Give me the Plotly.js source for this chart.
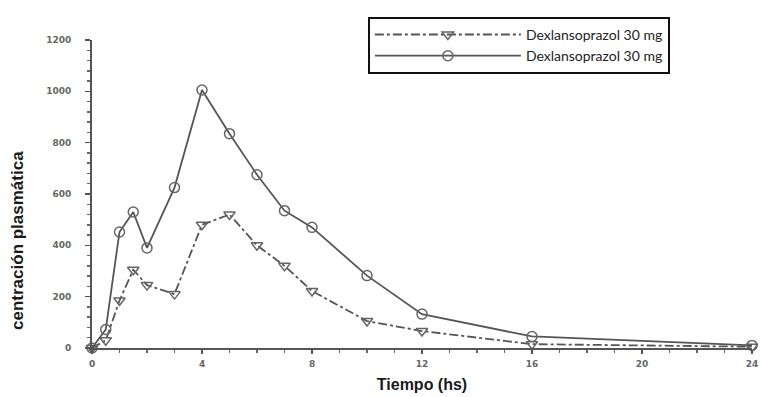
<!DOCTYPE html>
<html>
<head>
<meta charset="utf-8">
<script src="https://cdn.plot.ly/plotly-3.0.1.min.js"></script>
<style>html,body{margin:0;padding:0;background:#fff;}#chart{width:761px;height:397px;}</style>
</head>
<body>
<div id="chart"></div>
<script>
// Time points (hours)
var tiempo = [0, 0.5, 1, 1.5, 2, 3, 4, 5, 6, 7, 8, 10, 12, 16, 24];
// Series 1 (triangles, dash-dot)
var serieTriangulo = [0, 30, 185, 305, 245, 210, 480, 520, 400, 320, 222, 105, 66, 15, 5];
// Series 2 (circles, solid)
var serieCirculo = [0, 72, 452, 530, 390, 625, 1005, 835, 675, 535, 470, 282, 132, 45, 10];
var nombres = ["Dexlansoprazol 30 mg", "Dexlansoprazol 30 mg"];
var xTicks = [0, 4, 8, 12, 16, 20, 24];
var yTicks = [0, 200, 400, 600, 800, 1000, 1200];
var tituloX = 'Tiempo (hs)';
var tituloY = 'centración plasmática';

var traces = [
  {
    x: tiempo, y: serieTriangulo, name: nombres[0], type: 'scatter', mode: 'lines+markers',
    cliponaxis: false,
    line: {color: '#555', width: 1.8, dash: 'dashdot'},
    marker: {symbol: 'triangle-down-open', size: 10, color: '#666', line: {width: 1.5}}
  },
  {
    x: tiempo, y: serieCirculo, name: nombres[1], type: 'scatter', mode: 'lines+markers',
    cliponaxis: false,
    line: {color: '#555', width: 1.8},
    marker: {symbol: 'circle-open', size: 10, color: '#666', line: {width: 1.5}}
  }
];

var tickFont = {family: 'DejaVu Sans, sans-serif', size: 9, color: '#666', weight: 'bold'};
var titleFont = {family: 'Liberation Sans, Arial, sans-serif', size: 16, color: '#1a1a1a', weight: 'bold'};
var layout = {
  width: 761, height: 397,
  margin: {l: 92, r: 9, t: 40, b: 49},
  paper_bgcolor: '#fff', plot_bgcolor: '#fff',
  showlegend: true,
  legend: {
    x: 0.418, y: 1.075, xanchor: 'left', yanchor: 'top',
    bordercolor: '#111', borderwidth: 2, bgcolor: '#fff',
    font: {family: 'Lato, Liberation Sans, sans-serif', size: 14, color: '#222'},
    itemwidth: 146, tracegroupgap: 0
  },
  xaxis: {
    range: [0, 24], tickvals: xTicks, ticktext: xTicks.map(String),
    showgrid: false, zeroline: false, showline: true, linecolor: '#555', linewidth: 2,
    ticks: 'outside', ticklen: 4, tickcolor: '#555', tickwidth: 1.5,
    minor: {dtick: 1, ticks: 'outside', ticklen: 3, tickcolor: '#666', showgrid: false},
    tickfont: tickFont, ticklabelstandoff: 2,
    title: {text: tituloX, font: titleFont, standoff: 11}
  },
  yaxis: {
    range: [0, 1200], tickvals: yTicks, ticktext: yTicks.map(String),
    showgrid: false, zeroline: false, showline: true, linecolor: '#555', linewidth: 2,
    ticks: 'outside', ticklen: 5, tickcolor: '#555', tickwidth: 1.5,
    minor: {dtick: 40, ticks: 'outside', ticklen: 3, tickcolor: '#666', showgrid: false},
    tickfont: tickFont, ticklabelstandoff: 12
  },
  annotations: [{
    text: tituloY, xref: 'paper', yref: 'paper', x: -0.114, y: 0.35,
    xanchor: 'center', yanchor: 'middle', textangle: -90, showarrow: false,
    font: {family: 'Liberation Sans, Arial, sans-serif', size: 17, color: '#1a1a1a', weight: 'bold'}
  }]
};

Plotly.newPlot('chart', traces, layout, {displayModeBar: false, staticPlot: true});
</script>
</body>
</html>
